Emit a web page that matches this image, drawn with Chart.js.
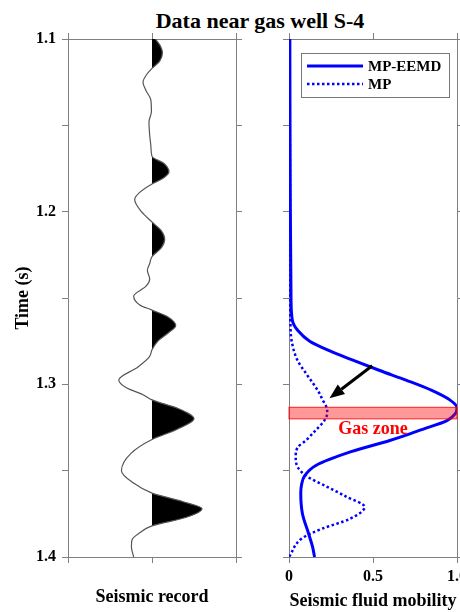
<!DOCTYPE html>
<html>
<head>
<meta charset="utf-8">
<title>Data near gas well S-4</title>
<script src="https://cdn.jsdelivr.net/npm/chart.js@4.4.1/dist/chart.umd.min.js"></script>
<style>
  html, body { margin: 0; padding: 0; background: #fff; overflow: hidden; }
  #page { position: relative; width: 460px; height: 612px; }
  #title {
    position: absolute; left: 60px; top: 8px; width: 400px;
    text-align: center; line-height: 24px; color: #000;
    font: bold 22px 'Liberation Serif', 'Times New Roman', serif;
  }
  #recordBox { position: absolute; left: 0; top: 0; width: 250px; height: 612px; }
  #mobilityBox { position: absolute; left: 250px; top: 0; width: 230px; height: 612px; }
</style>
</head>
<body>
<div id="page">
  <div id="title">Data near gas well S-4</div>
  <div id="recordBox"><canvas id="recordChart" width="250" height="612"></canvas></div>
  <div id="mobilityBox"><canvas id="mobilityChart" width="230" height="612"></canvas></div>
</div>
<script>
// Seismic trace: time (s) and normalized amplitude
const traceTime = [1.100, 1.104, 1.108, 1.113, 1.117, 1.121, 1.125, 1.130, 1.135, 1.142,
                   1.148, 1.156, 1.163, 1.168, 1.172, 1.177, 1.181, 1.184, 1.189, 1.193,
                   1.200, 1.206, 1.211, 1.216, 1.221, 1.226, 1.230, 1.234, 1.239, 1.243,
                   1.249, 1.254, 1.257, 1.261, 1.266, 1.270, 1.275, 1.280, 1.284, 1.290,
                   1.2975, 1.302, 1.306, 1.309, 1.314, 1.320, 1.326, 1.332, 1.340, 1.350,
                   1.357, 1.363, 1.368, 1.372, 1.377, 1.382, 1.386, 1.390, 1.394, 1.400];
const traceAmp = [0.04, 0.10, 0.124, 0.09, 0, -0.07, -0.107, -0.07, -0.015, -0.007,
                  -0.036, -0.027, -0.012, 0, 0.14, 0.202, 0.12, 0, -0.15, -0.206,
                  -0.126, 0, 0.11, 0.151, 0.11, 0, -0.027, -0.055, -0.027, -0.067,
                  -0.218, -0.146, 0, 0.19, 0.282, 0.20, 0.07, 0, -0.03, -0.167,
                  -0.396, -0.305, -0.107, 0, 0.31, 0.50, 0.30, 0, -0.25, -0.364,
                  -0.226, 0, 0.37, 0.595, 0.41, 0, -0.146, -0.238, -0.245, -0.218];

// Seismic fluid mobility, MP-EEMD
const eemdTime = [1.100, 1.150, 1.200, 1.250, 1.263, 1.269, 1.275, 1.2805, 1.286, 1.292,
                  1.2977, 1.3035, 1.309, 1.3135, 1.317, 1.321, 1.3265, 1.330, 1.3325, 1.339,
                  1.347, 1.353, 1.358, 1.363, 1.375, 1.386, 1.394, 1.400];
const eemdValue = [0.005, 0.006, 0.008, 0.012, 0.02, 0.054, 0.123, 0.24, 0.38, 0.54,
                   0.70, 0.85, 0.957, 1.0, 0.99, 0.94, 0.78, 0.68, 0.6, 0.37,
                   0.16, 0.093, 0.075, 0.07, 0.08, 0.115, 0.14, 0.152];

// Seismic fluid mobility, MP
const mpTime = [1.100, 1.150, 1.200, 1.250, 1.263, 1.275, 1.286, 1.2935, 1.299, 1.305,
                1.309, 1.3125, 1.3165, 1.321, 1.3265, 1.3325, 1.3365, 1.342, 1.348, 1.3535,
                1.359, 1.365, 1.371, 1.378, 1.3835, 1.389, 1.400];
const mpValue = [0.003, 0.005, 0.006, 0.006, 0.008, 0.016, 0.05, 0.10, 0.14, 0.18,
                 0.20, 0.22, 0.228, 0.21, 0.16, 0.10, 0.052, 0.04, 0.052, 0.11,
                 0.22, 0.34, 0.45, 0.36, 0.20, 0.08, 0.0];

const timeLabels = [1.1, 1.2, 1.3, 1.4];
const gasZone = [1.3133, 1.3200];
const gasLabel = { x: 0.5, y: 1.3259, text: 'Gas zone' };
const arrowFrom = { x: 0.495, y: 1.2892 };
const arrowTo = { x: 0.241, y: 1.3081 };

const FONT = "'Liberation Serif', 'Times New Roman', serif";
const AXIS_GRAY = '#808080';

function toPoints(times, values) {
    return times.map((t, i) => ({ x: values[i], y: t }));
}

function fixSize(size) {
    return function (scale) {
        if (scale.isHorizontal()) scale.height = size;
        else scale.width = size;
    };
}

// one side of the axes box, ticks pointing outward
function boxAxis(position, extra) {
    return Object.assign({
        type: 'linear',
        position: position,
        axis: (position === 'top' || position === 'bottom') ? 'x' : 'y',
        border: { display: true, color: AXIS_GRAY, width: 1 },
        grid: { drawOnChartArea: false, drawTicks: true, tickLength: 6, color: AXIS_GRAY, tickColor: AXIS_GRAY, lineWidth: 1 },
        ticks: { display: false }
    }, extra);
}

function axisTitle(text, padding) {
    return { display: true, text: text, color: '#000', padding: padding,
             font: { family: FONT, size: 18, weight: 'bold' } };
}

const timeAxis = { min: 1.1, max: 1.4, reverse: true };

// black fill only on the positive side of the trace
function positiveFill(context) {
    const chart = context.chart;
    const area = chart.chartArea;
    if (!area) return 'rgba(0,0,0,0)';
    const zero = chart.scales.x.getPixelForValue(0);
    const f = (zero - area.left) / (area.right - area.left);
    const g = chart.ctx.createLinearGradient(area.left, 0, area.right, 0);
    g.addColorStop(0, 'rgba(0,0,0,0)');
    g.addColorStop(f, 'rgba(0,0,0,0)');
    g.addColorStop(f, '#000');
    g.addColorStop(1, '#000');
    return g;
}

const baseOptions = {
    indexAxis: 'y',
    animation: false,
    responsive: false,
    events: [],
    layout: { padding: 0 },
    plugins: { legend: { display: false }, tooltip: { enabled: false } }
};

// Left panel: seismic record
new Chart(document.getElementById('recordChart'), {
    type: 'line',
    data: {
        datasets: [{
            label: 'Seismic record',
            data: toPoints(traceTime, traceAmp),
            borderColor: '#555',
            borderWidth: 1.2,
            pointRadius: 0,
            cubicInterpolationMode: 'monotone',
            fill: 'origin',
            backgroundColor: positiveFill
        }]
    },
    options: Object.assign({}, baseOptions, {
        scales: {
            x: boxAxis('bottom', {
                min: -1, max: 1,
                ticks: { display: false, stepSize: 1 },
                title: axisTitle('Seismic record', { top: 0, bottom: 4 }),
                afterFit: fixSize(55)
            }),
            xTop: boxAxis('top', {
                min: -1, max: 1,
                ticks: { display: false, stepSize: 1 },
                afterFit: fixSize(39)
            }),
            y: boxAxis('left', Object.assign({}, timeAxis, {
                ticks: {
                    display: true, stepSize: 0.05, autoSkip: false, padding: 6, color: '#000',
                    font: { family: FONT, size: 16, weight: 'bold' },
                    callback: v => timeLabels.some(l => Math.abs(l - v) < 1e-6) ? v.toFixed(1) : ''
                },
                title: axisTitle('Time (s)', { top: 13, bottom: 0 }),
                afterFit: fixSize(68)
            })),
            yRight: boxAxis('right', Object.assign({}, timeAxis, {
                ticks: { display: false, stepSize: 0.05 },
                afterFit: fixSize(14)
            }))
        }
    })
});

// Gas zone band, its label, the pointer arrow and the legend
const annotations = {
    id: 'annotations',
    afterDatasetsDraw(chart) {
        const { ctx, chartArea, scales: { x, y } } = chart;
        ctx.save();

        const bx0 = x.getPixelForValue(0), bx1 = x.getPixelForValue(1);
        const by0 = y.getPixelForValue(gasZone[0]), by1 = y.getPixelForValue(gasZone[1]);
        ctx.fillStyle = 'rgba(255, 0, 0, 0.4)';
        ctx.fillRect(bx0, by0, bx1 - bx0, by1 - by0);
        ctx.strokeStyle = 'rgba(255, 0, 0, 0.85)';
        ctx.lineWidth = 1;
        ctx.strokeRect(bx0, by0, bx1 - bx0, by1 - by0);

        ctx.fillStyle = '#ff0000';
        ctx.font = 'bold 18px ' + FONT;
        ctx.textAlign = 'center';
        ctx.textBaseline = 'middle';
        ctx.fillText(gasLabel.text, x.getPixelForValue(gasLabel.x), y.getPixelForValue(gasLabel.y));

        // arrow
        const ax0 = x.getPixelForValue(arrowFrom.x), ay0 = y.getPixelForValue(arrowFrom.y);
        const ax1 = x.getPixelForValue(arrowTo.x), ay1 = y.getPixelForValue(arrowTo.y);
        const ang = Math.atan2(ay1 - ay0, ax1 - ax0);
        const headLen = 15, headHalf = 6;
        const baseX = ax1 - headLen * Math.cos(ang), baseY = ay1 - headLen * Math.sin(ang);
        ctx.strokeStyle = '#000';
        ctx.fillStyle = '#000';
        ctx.lineWidth = 3;
        ctx.beginPath();
        ctx.moveTo(ax0, ay0);
        ctx.lineTo(baseX, baseY);
        ctx.stroke();
        ctx.beginPath();
        ctx.moveTo(ax1, ay1);
        ctx.lineTo(baseX + headHalf * Math.sin(ang), baseY - headHalf * Math.cos(ang));
        ctx.lineTo(baseX - headHalf * Math.sin(ang), baseY + headHalf * Math.cos(ang));
        ctx.closePath();
        ctx.fill();

        // legend box
        const lx = chartArea.left + 12, ly = chartArea.top + 14, lw = 148, lh = 44;
        ctx.fillStyle = '#fff';
        ctx.fillRect(lx, ly, lw, lh);
        ctx.strokeStyle = '#777';
        ctx.lineWidth = 1;
        ctx.strokeRect(lx + 0.5, ly + 0.5, lw, lh);
        ctx.font = 'bold 15px ' + FONT;
        ctx.textAlign = 'left';
        chart.data.datasets.forEach((ds, i) => {
            const rowY = ly + 13 + i * 18;
            ctx.strokeStyle = ds.borderColor;
            ctx.lineWidth = ds.borderWidth;
            ctx.setLineDash(ds.borderDash || []);
            ctx.beginPath();
            ctx.moveTo(lx + 6, rowY);
            ctx.lineTo(lx + 62, rowY);
            ctx.stroke();
            ctx.setLineDash([]);
            ctx.fillStyle = '#000';
            ctx.fillText(ds.label, lx + 67, rowY + 1);
        });

        ctx.restore();
    }
};

// Right panel: seismic fluid mobility
new Chart(document.getElementById('mobilityChart'), {
    type: 'line',
    data: {
        datasets: [{
            label: 'MP-EEMD',
            data: toPoints(eemdTime, eemdValue),
            borderColor: '#0000ff',
            borderWidth: 3,
            pointRadius: 0,
            cubicInterpolationMode: 'monotone',
            fill: false
        }, {
            label: 'MP',
            data: toPoints(mpTime, mpValue),
            borderColor: '#0000ff',
            borderWidth: 2.5,
            borderDash: [2.5, 2.5],
            pointRadius: 0,
            cubicInterpolationMode: 'monotone',
            fill: false
        }]
    },
    options: Object.assign({}, baseOptions, {
        scales: {
            x: boxAxis('bottom', {
                min: 0, max: 1,
                ticks: { display: true, stepSize: 0.5, padding: 4, color: '#000',
                         font: { family: FONT, size: 16, weight: 'bold' } },
                title: axisTitle('Seismic fluid mobility', { top: 0, bottom: 0 }),
                afterFit: fixSize(55)
            }),
            xTop: boxAxis('top', {
                min: 0, max: 1,
                ticks: { display: false, stepSize: 0.5 },
                afterFit: fixSize(39)
            }),
            y: boxAxis('left', Object.assign({}, timeAxis, {
                ticks: { display: false, stepSize: 0.05 },
                afterFit: fixSize(39)
            })),
            yRight: boxAxis('right', Object.assign({}, timeAxis, {
                ticks: { display: false, stepSize: 0.05 },
                afterFit: fixSize(23)
            }))
        }
    }),
    plugins: [annotations]
});
</script>
</body>
</html>
